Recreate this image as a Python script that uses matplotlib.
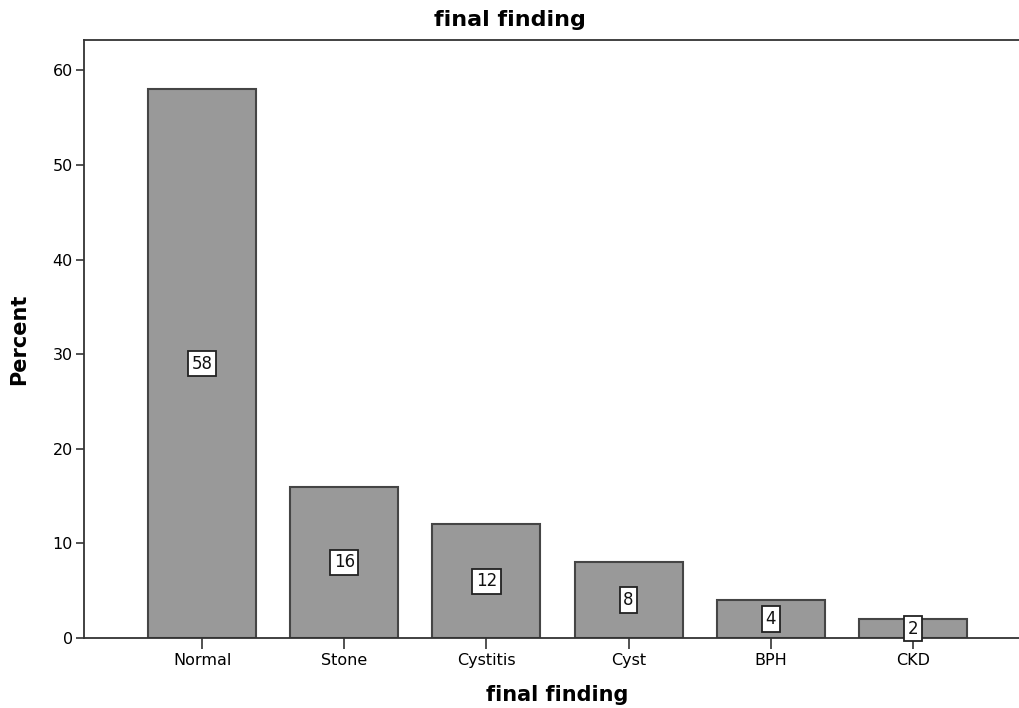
import matplotlib
matplotlib.use("Agg")
import matplotlib.pyplot as plt

plt.rcParams['font.family'] = ['DejaVu Sans']

categories = ['Normal', 'Stone', 'Cystitis', 'Cyst', 'BPH', 'CKD']
percent = [58, 16, 12, 8, 4, 2]
yticks = [0, 10, 20, 30, 40, 50, 60]

fig = plt.figure(figsize=(10.19, 7.08), dpi=100)
ax = fig.add_axes([0.0824, 0.0989, 0.9293, 0.8446])

x = list(range(len(categories)))
ax.bar(x, percent, width=0.76, color='#999999', edgecolor='#454545', linewidth=1.5, zorder=2)

for xi, v in zip(x, percent):
    ax.text(xi, v / 2, str(v), ha='center', va='center', fontsize=12, color='#111111', zorder=3,
            bbox=dict(boxstyle='square,pad=0.22', facecolor='white', edgecolor='#222222', linewidth=1.3))

ax.set_xlim(-0.831, 5.831)
ax.set_ylim(0, 63.2)
ax.set_xticks(x)
ax.set_xticklabels(categories, fontsize=11.5)
ax.set_yticks(yticks)
ax.set_yticklabels([str(t) for t in yticks], fontsize=11.5)
ax.tick_params(axis='y', direction='out', length=6, width=1.2, color='#333333', pad=2)
ax.tick_params(axis='x', direction='out', length=8, width=1.2, color='#333333', pad=3)

for side in ['left', 'bottom', 'top']:
    ax.spines[side].set_color('#333333')
    ax.spines[side].set_linewidth(1.3)
ax.spines['right'].set_visible(False)

fig.text(0.5, 0.972, 'final finding', ha='center', va='center', fontsize=16, fontweight='bold')
ax.set_xlabel('final finding', fontsize=15, fontweight='bold', labelpad=12)
ax.set_ylabel('Percent', fontsize=15, fontweight='bold', labelpad=17)

fig.savefig('out.png', dpi=100)
